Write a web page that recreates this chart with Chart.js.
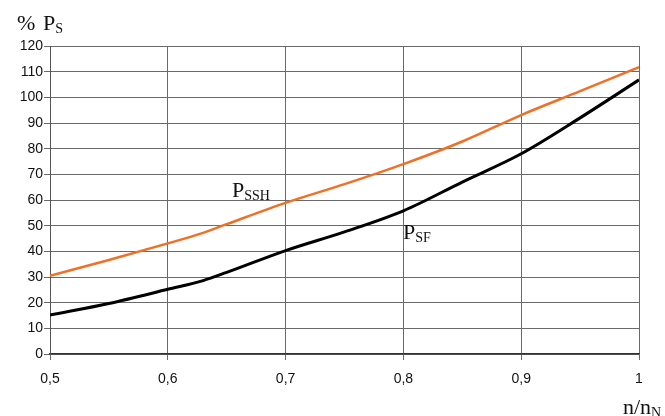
<!DOCTYPE html>
<html>
<head>
<meta charset="utf-8">
<script src="https://cdn.jsdelivr.net/npm/chart.js@4.4.1/dist/chart.umd.min.js"></script>
<style>
  html, body { margin: 0; padding: 0; background: #fff; }
  #wrap { width: 665px; height: 416px; }
</style>
</head>
<body>
<div id="wrap"><canvas id="speedChart"></canvas></div>
<script>
/* ===== DATA ===== */
const speedRatio = [0.5, 0.55, 0.6, 0.63, 0.65, 0.7, 0.75, 0.8, 0.85, 0.9, 0.95, 1.0];
const powerSSH = [30.5, 36.6, 43.1, 47.2, 50.6, 58.9, 66.2, 74.0, 82.8, 93.1, 102.4, 111.8];
const powerSF = [15.2, 19.7, 25.2, 28.6, 31.8, 40.3, 47.6, 55.8, 67.0, 78.0, 92.0, 106.8];
const xTicks = [0.5, 0.6, 0.7, 0.8, 0.9, 1.0];
const yMax = 120;

function toPoints(xs, ys) {
  return xs.map((x, i) => ({ x: x, y: ys[i] }));
}

// subscript-style labels drawn in serif, like the original figure
function drawSub(ctx, x, y, main, sub) {
  ctx.font = "22px 'Liberation Serif'";
  ctx.fillText(main, x, y);
  const w = ctx.measureText(main).width;
  ctx.font = "14px 'Liberation Serif'";
  ctx.fillText(sub, x + w, y + 3);
}

const labelPlugin = {
  id: "curveLabels",
  afterDatasetsDraw(chart) {
    const ctx = chart.ctx;
    const xs = chart.scales.x;
    const ys = chart.scales.y;
    const area = chart.chartArea;
    ctx.save();
    ctx.fillStyle = "#111";
    ctx.textBaseline = "alphabetic";
    ctx.textAlign = "left";
    drawSub(ctx, xs.getPixelForValue(0.6545), ys.getPixelForValue(61.2), "P", "SSH");
    drawSub(ctx, xs.getPixelForValue(0.7997), ys.getPixelForValue(44.8), "P", "SF");
    // axis titles
    ctx.font = "22px 'Liberation Serif'";
    ctx.fillText("%", area.left - 33, area.top - 16);
    drawSub(ctx, area.left - 7, area.top - 16, "P", "S");
    drawSub(ctx, area.right - 16, area.bottom + 60, "n/n", "N");
    ctx.restore();
  }
};

/* ===== LINE CHART ===== */
const ctx = document.getElementById("speedChart");

new Chart(ctx, {
  type: "line",
  data: {
    datasets: [
      {
        label: "PSSH",
        data: toPoints(speedRatio, powerSSH),
        borderColor: "#f07026",
        borderWidth: 2.5,
        pointRadius: 0,
        cubicInterpolationMode: "monotone"
      },
      {
        label: "PSF",
        data: toPoints(speedRatio, powerSF),
        borderColor: "#000000",
        borderWidth: 3,
        pointRadius: 0,
        cubicInterpolationMode: "monotone"
      }
    ]
  },
  options: {
    responsive: true,
    maintainAspectRatio: false,
    animation: false,
    layout: { padding: { top: 46, right: 26, left: 0, bottom: 0 } },
    plugins: {
      legend: { display: false },
      tooltip: { enabled: false }
    },
    scales: {
      x: {
        type: "linear",
        min: 0.5,
        max: 1,
        afterBuildTicks: s => { s.ticks = xTicks.map(v => ({ value: v })); },
        afterFit: s => { s.height = 62; },
        grid: { color: "#6a6a6a", lineWidth: 1, tickLength: 6 },
        border: { color: "#333", width: 1.5 },
        ticks: {
          padding: 11,
          color: "#111",
          font: { family: "'Liberation Sans'", size: 14 },
          callback: v => (v === 1 ? "1" : v.toFixed(1).replace(".", ","))
        }
      },
      y: {
        min: 0,
        max: yMax,
        afterFit: s => { s.width = 50; },
        grid: { color: "#6a6a6a", lineWidth: 1, tickLength: 6 },
        border: { color: "#555", width: 1 },
        ticks: {
          stepSize: 10,
          padding: 1,
          color: "#111",
          font: { family: "'Liberation Sans'", size: 14 }
        }
      }
    }
  },
  plugins: [labelPlugin]
});
</script>
</body>
</html>
